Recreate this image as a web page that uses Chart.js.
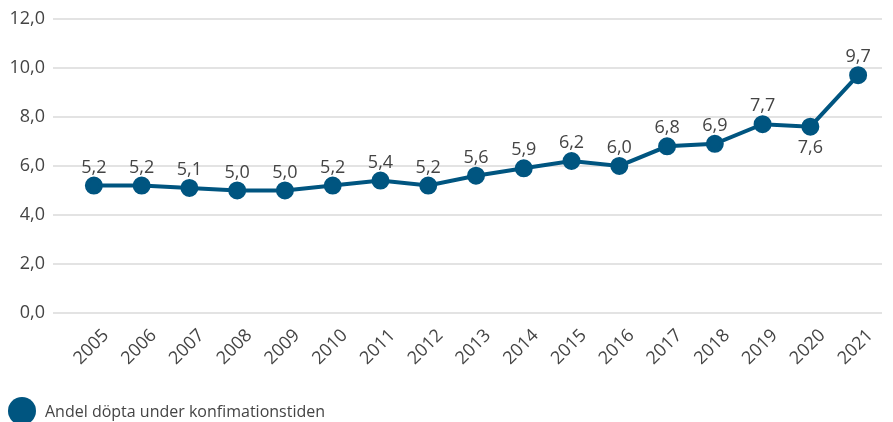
<!DOCTYPE html>
<html lang="sv">
<head>
<meta charset="utf-8">
<script src="https://cdn.jsdelivr.net/npm/chart.js@4"></script>
<style>
    html, body { margin: 0; padding: 0; background: #fff; }
    #wrap { position: relative; width: 893px; height: 422px; }
    #legend {
        position: absolute; left: 8px; top: 397px;
        display: flex; align-items: center;
        font-family: "Open Sans", sans-serif; font-size: 16px; color: #444;
    }
    #legend .dot {
        width: 28px; height: 28px; border-radius: 50%;
        background: #005580; margin-right: 9px;
    }
</style>
</head>
<body>
<div id="wrap">
    <canvas id="dop-chart" width="893" height="422"></canvas>
    <div id="legend"><span class="dot"></span><span>Andel döpta under konfimationstiden</span></div>
</div>
<script>
// Andel döpta under konfimationstiden, 2005-2021
const years = ['2005', '2006', '2007', '2008', '2009', '2010', '2011', '2012', '2013',
    '2014', '2015', '2016', '2017', '2018', '2019', '2020', '2021'];
const andelDopta = [5.2, 5.2, 5.1, 5.0, 5.0, 5.2, 5.4, 5.2, 5.6, 5.9, 6.2, 6.0, 6.8, 6.9, 7.7, 7.6, 9.7];
// etiketter som hamnar under punkten
const labelBelow = ['2020'];

const lineColor = '#005580';
const textColor = '#444';
const fmt = v => v.toFixed(1).replace('.', ',');

// Värdeetiketter över punkterna
const valueLabels = {
    id: 'valueLabels',
    afterDatasetsDraw(chart) {
        const ctx = chart.ctx;
        const meta = chart.getDatasetMeta(0);
        ctx.save();
        ctx.font = '18px "Open Sans", sans-serif';
        ctx.fillStyle = textColor;
        ctx.textAlign = 'center';
        ctx.textBaseline = 'middle';
        meta.data.forEach((pt, i) => {
            const below = labelBelow.includes(years[i]);
            ctx.fillText(fmt(andelDopta[i]), pt.x, below ? pt.y + 21 : pt.y - 18);
        });
        ctx.restore();
    }
};

new Chart(document.getElementById('dop-chart'), {
    type: 'line',
    data: {
        labels: years,
        datasets: [{
            label: 'Andel döpta under konfimationstiden',
            data: andelDopta,
            borderColor: lineColor,
            backgroundColor: lineColor,
            borderWidth: 4,
            pointRadius: 7,
            pointHoverRadius: 7,
            tension: 0
        }]
    },
    options: {
        responsive: false,
        animation: false,
        layout: { padding: { top: 18, right: 7, bottom: 0, left: 0 } },
        plugins: {
            legend: { display: false },
            tooltip: { enabled: false }
        },
        scales: {
            x: {
                offset: true,
                grid: { display: false },
                border: { display: false },
                afterFit: scale => { scale.height = 109; },
                ticks: {
                    color: textColor,
                    font: { family: '"Open Sans", sans-serif', size: 18 },
                    maxRotation: 45,
                    minRotation: 45,
                    padding: 4,
                    labelOffset: 12,
                    autoSkip: false
                }
            },
            y: {
                min: 0,
                max: 12,
                border: { display: false },
                afterFit: scale => { scale.width = 70; },
                grid: { color: '#e3e3e3', lineWidth: 2, tickLength: 17 },
                ticks: {
                    stepSize: 2,
                    padding: 8,
                    color: textColor,
                    font: { family: '"Open Sans", sans-serif', size: 18 },
                    callback: v => fmt(v)
                }
            }
        }
    },
    plugins: [valueLabels]
});
</script>
</body>
</html>
